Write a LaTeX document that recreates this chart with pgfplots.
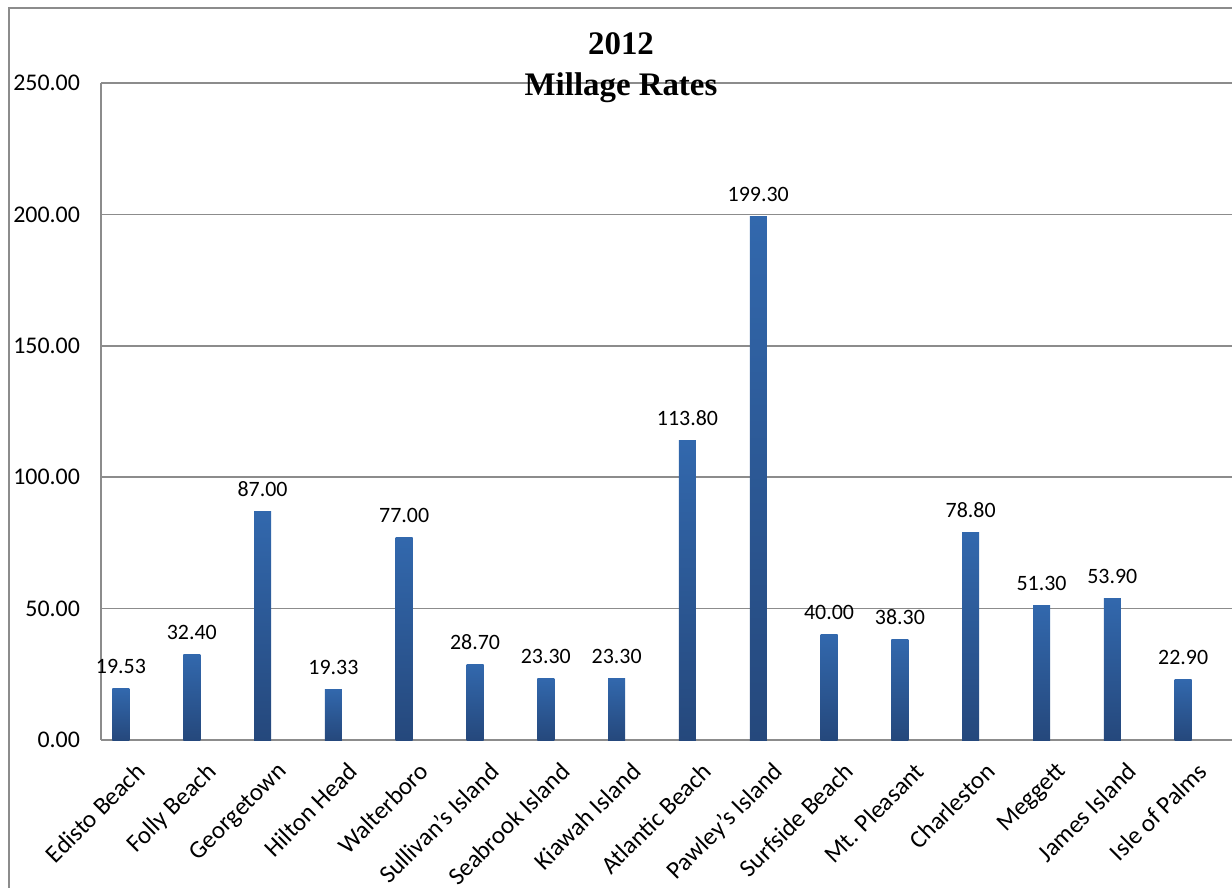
\documentclass[border=0pt]{standalone}
\usepackage{fontspec}
\setmainfont{Carlito}
\newfontfamily\titlefont{Liberation Serif}
\usepackage{pgfplots}
\pgfplotsset{compat=1.18}
\definecolor{bartop}{HTML}{3268AD}
\definecolor{barbot}{HTML}{25487C}
\definecolor{gridc}{HTML}{8C8C8C}
\pgfplotsset{onebar/.style={draw=none, top color=bartop, bottom color=barbot, bar shift=0pt}}
\begin{document}
\begin{tikzpicture}
\path[use as bounding box] (-50.5bp,-74bp) rectangle (565.5bp,370bp);
\draw[gridc, line width=0.9bp] (-46bp,-80bp) -- (-46bp,366bp) -- (570bp,366bp);
\begin{axis}[
  at={(0,0)}, anchor=south west,
  scale only axis,
  width=565.5bp, height=328.5bp,
  xmin=-0.282, xmax=15.69,
  ymin=0, ymax=250,
  ytick={0,50,100,150,200,250},
  axis x line*=bottom, axis y line*=left,
  axis line style={gridc, line width=1bp, -},
  ymajorgrids, grid style={gridc, line width=0.8bp},
  major tick length=0pt,
  xtick={0,...,15},
  xticklabels={Edisto Beach,Folly Beach,Georgetown,Hilton Head,Walterboro,Sullivan's Island,Seabrook Island,Kiawah Island,Atlantic Beach,Pawley's Island,Surfside Beach,Mt. Pleasant,Charleston,Meggett,James Island,Isle of Palms},
  xticklabel style={rotate=45, anchor=north east, font=\fontsize{12.5}{12.5}\selectfont, inner sep=0pt, xshift=-2.5bp, yshift=-12bp},
  yticklabel style={font=\fontsize{12}{12}\selectfont, xshift=-7bp},
  y tick label style={/pgf/number format/.cd, fixed, fixed zerofill, precision=2},
  /pgf/number format/assume math mode=true,
  ybar, bar width=8.5bp,
  nodes near coords,
  nodes near coords style={font=\fontsize{11}{11}\selectfont, anchor=base, yshift=7.5bp, inner sep=0pt},
  every node near coord/.append style={/pgf/number format/.cd, fixed, fixed zerofill, precision=2},
  clip=false,
]
\addplot[onebar] coordinates {(0,19.53)};
\addplot[onebar] coordinates {(1,32.40)};
\addplot[onebar] coordinates {(2,87.00)};
\addplot[onebar] coordinates {(3,19.33)};
\addplot[onebar] coordinates {(4,77.00)};
\addplot[onebar] coordinates {(5,28.70)};
\addplot[onebar] coordinates {(6,23.30)};
\addplot[onebar] coordinates {(7,23.30)};
\addplot[onebar] coordinates {(8,113.80)};
\addplot[onebar] coordinates {(9,199.30)};
\addplot[onebar] coordinates {(10,40.00)};
\addplot[onebar] coordinates {(11,38.30)};
\addplot[onebar] coordinates {(12,78.80)};
\addplot[onebar] coordinates {(13,51.30)};
\addplot[onebar] coordinates {(14,53.90)};
\addplot[onebar] coordinates {(15,22.90)};
\end{axis}
\node[font=\titlefont\bfseries\fontsize{16.5}{20.5}\selectfont, align=center] at (260bp,336bp) {2012\\Millage Rates};
\end{tikzpicture}
\end{document}
